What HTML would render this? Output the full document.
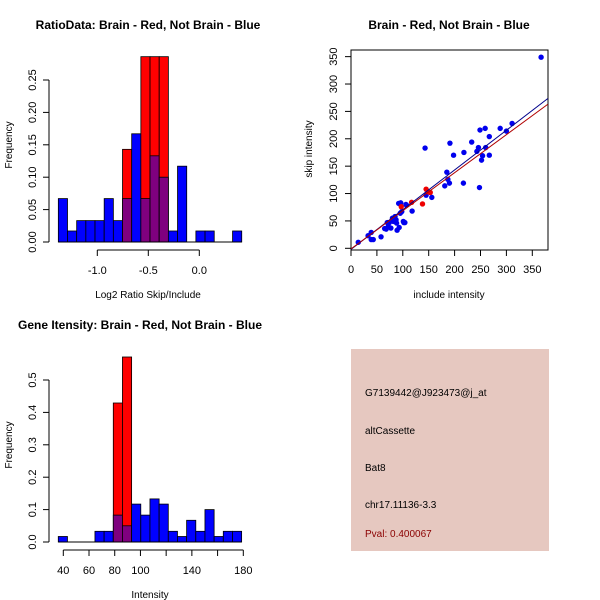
<!DOCTYPE html>
<html><head><meta charset="utf-8"><style>
body{margin:0;background:#fff;}
svg{display:block;font-family:"Liberation Sans",sans-serif;}
</style></head><body>
<svg id="c" width="600" height="600" xmlns="http://www.w3.org/2000/svg">
<rect width="600" height="600" fill="#fff"/>
<text x="148" y="29" font-size="12" font-weight="bold" text-anchor="middle">RatioData: Brain - Red, Not Brain - Blue</text>
<text x="148" y="298" font-size="10" text-anchor="middle">Log2 Ratio Skip/Include</text>
<text transform="translate(12,145) rotate(-90)" font-size="10" text-anchor="middle">Frequency</text>
<text x="449" y="29" font-size="12" font-weight="bold" text-anchor="middle">Brain - Red, Not Brain - Blue</text>
<text x="449" y="298" font-size="10" text-anchor="middle">include intensity</text>
<text transform="translate(312,149) rotate(-90)" font-size="10" text-anchor="middle">skip intensity</text>
<text x="140" y="329" font-size="12" font-weight="bold" text-anchor="middle">Gene Itensity: Brain - Red, Not Brain - Blue</text>
<text x="150" y="598" font-size="10" text-anchor="middle">Intensity</text>
<text transform="translate(12,445) rotate(-90)" font-size="10" text-anchor="middle">Frequency</text>
<g>
<rect x="351" y="349" width="198" height="202" fill="#e6c8c0"/>
<text x="365" y="396" font-size="10">G7139442@J923473@j_at</text>
<text x="365" y="434" font-size="10">altCassette</text>
<text x="365" y="471" font-size="10">Bat8</text>
<text x="365" y="508" font-size="10">chr17.11136-3.3</text>
<text x="365" y="537" font-size="10" fill="#8b0000">Pval: 0.400067</text>
</g>
</svg>
<script>
// Ratio histogram data
const ratioBlue=[0.067,0.017,0.033,0.033,0.033,0.067,0.033,0.067,0.167,0.067,0.133,0.1,0.017,0.117,0,0.017,0.017,0,0,0.017];
const ratioRed=[0,0,0,0,0,0,0,0.143,0,0.286,0.286,0.286,0,0,0,0,0,0,0,0];
const ratioStart=-1.382, ratioBinW=0.0899;
const ratioXTicks=[-1.0,-0.5,0.0];
const ratioXTickLabels=["-1.0","-0.5","0.0"];
const ratioYTicks=[0,0.05,0.10,0.15,0.20,0.25];
const ratioYTickLabels=["0.00","0.05","0.10","0.15","0.20","0.25"];
// Gene histogram data
const geneBlue=[0.017,0,0,0,0.033,0.033,0.083,0.05,0.117,0.083,0.133,0.117,0.033,0.017,0.067,0.033,0.1,0.017,0.033,0.033];
const geneRed=[0,0,0,0,0,0,0.429,0.571,0,0,0,0,0,0,0,0,0,0,0,0];
const geneStart=36.1, geneBinW=7.13;
const geneXTicks=[40,60,80,100,120,140,160,180];
const geneXTickLabels=["40","60","80","100","","140","","180"];
const geneYTicks=[0,0.1,0.2,0.3,0.4,0.5];
const geneYTickLabels=["0.0","0.1","0.2","0.3","0.4","0.5"];
// Scatter data
const blueX=[14,33,39,39,43,58,68,70,72,74,77,82,85,87,88,89,93,95,96,98,101,102,104,106,107,118,143,145,156,181,185,187,190,191,198,217,218,233,243,246,248,249,252,254,259,260,267,267,288,300,311,367,65,80,92];
const blueY=[11,23,29,16,16,21,35,47,40,47,37,49,58,52,46,33,38,64,83,67,49,47,47,80,79,68,183,97,93,114,139,126,119,192,170,119,175,194,177,184,111,216,161,169,219,184,170,204,219,214,228,349,36,55,82];
const redX=[97,117,138,145,149,153];
const redY=[76,84,81,108,103,102];
const blueFit=[-2,0.725];
const redFit=[-1,0.695];
const scXTicks=[0,50,100,150,200,250,300,350];
const scYTicks=[0,50,100,150,200,250,300,350];

const svg=document.getElementById('c');
const NS='http://www.w3.org/2000/svg';
function mk(tag,attrs,parent){const e=document.createElementNS(NS,tag);for(const k in attrs)e.setAttribute(k,attrs[k]);(parent||svg).appendChild(e);return e;}

function hist(blue,red,start,bw,sx,sy,xT,xTL,yT,yTL,prefix,axisY,yAxisX){
  const g=mk('g',{});
  
  
  for(let i=0;i<blue.length;i++){
    const x0=sx(start+i*bw),x1=sx(start+(i+1)*bw);
    const b=blue[i],r=red[i];
    const lo=Math.min(b,r),hi=Math.max(b,r);
    if(hi>0){
      const e=mk('rect',{x:x0,y:sy(hi),width:x1-x0,height:sy(0)-sy(hi),fill:(r>b?'#ff0000':'#0000ff'),stroke:'#000','stroke-width':0.8},g);
      
      
    }
    if(lo>0){
      const e=mk('rect',{x:x0,y:sy(lo),width:x1-x0,height:sy(0)-sy(lo),fill:'#7f007f',stroke:'#000','stroke-width':0.8},g);
      
      
    }
  }
  mk('line',{x1:sx(start),x2:sx(start+blue.length*bw),y1:sy(0),y2:sy(0),stroke:'#000'},g);
  const xa=mk('g',{});
  
  
  mk('line',{x1:sx(xT[0]),x2:sx(xT[xT.length-1]),y1:axisY,y2:axisY,stroke:'#000'},xa);
  xT.forEach((t,i)=>{mk('line',{x1:sx(t),x2:sx(t),y1:axisY,y2:axisY+6,stroke:'#000'},xa);
    if(xTL[i]){const tx=mk('text',{x:sx(t),y:axisY+24,'font-size':11,'text-anchor':'middle'},xa);tx.textContent=xTL[i];}});
  const ya=mk('g',{});
  
  
  mk('line',{x1:yAxisX,x2:yAxisX,y1:sy(yT[0]),y2:sy(yT[yT.length-1]),stroke:'#000'},ya);
  yT.forEach((t,i)=>{mk('line',{x1:yAxisX-6,x2:yAxisX,y1:sy(t),y2:sy(t),stroke:'#000'},ya);
    const tx=mk('text',{transform:`translate(${yAxisX-13},${sy(t)}) rotate(-90)`,'font-size':11,'text-anchor':'middle'},ya);tx.textContent=yTL[i];});
}
hist(ratioBlue,ratioRed,ratioStart,ratioBinW,v=>199.3+v*102,v=>242-v*648,ratioXTicks,ratioXTickLabels,ratioYTicks,ratioYTickLabels,'ratio',250,49);
hist(geneBlue,geneRed,geneStart,geneBinW,v=>63.3+(v-40)*1.2857,v=>542-v*324,geneXTicks,geneXTickLabels,geneYTicks,geneYTickLabels,'gene',550,49);

// scatter
const px=v=>351+v*0.518, py=v=>248.3-v*0.5476;
mk('rect',{x:351,y:50,width:197,height:200,fill:'none',stroke:'#000'});
const sg=mk('g',{});


blueX.forEach((x,i)=>{const c=mk('circle',{cx:px(x),cy:py(blueY[i]),r:2.7,fill:'#0000ee'},sg);
  
  });
redX.forEach((x,i)=>{const c=mk('circle',{cx:px(x),cy:py(redY[i]),r:2.7,fill:'#ee0000'},sg);
  
  });
const xmax=380;
const bl=mk('line',{x1:px(0),y1:py(blueFit[0]),x2:px(xmax),y2:py(blueFit[0]+blueFit[1]*xmax),stroke:'#00008b'});


const rl=mk('line',{x1:px(0),y1:py(redFit[0]),x2:px(xmax),y2:py(redFit[0]+redFit[1]*xmax),stroke:'#b00000'});


const sxa=mk('g',{});


scXTicks.forEach(t=>{mk('line',{x1:px(t),x2:px(t),y1:250,y2:256,stroke:'#000'},sxa);
  const tx=mk('text',{x:px(t),y:273,'font-size':11,'text-anchor':'middle'},sxa);tx.textContent=String(t);});
const sya=mk('g',{});


scYTicks.forEach(t=>{mk('line',{x1:345,x2:351,y1:py(t),y2:py(t),stroke:'#000'},sya);
  const tx=mk('text',{transform:`translate(337,${py(t)}) rotate(-90)`,'font-size':11,'text-anchor':'middle'},sya);tx.textContent=String(t);});
</script>
</body></html>
